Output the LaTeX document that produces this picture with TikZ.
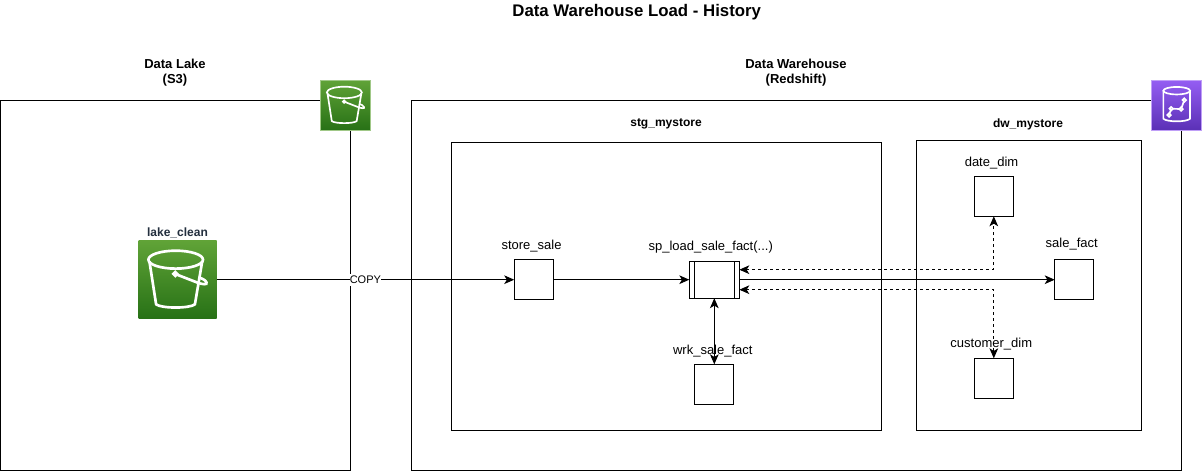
\documentclass[tikz,border=0pt]{standalone}
\usepackage{fontspec}
\setmainfont{Liberation Sans}
\usetikzlibrary{arrows.meta,calc}
\definecolor{awsink}{HTML}{232F3E}
\definecolor{s3top}{HTML}{60A337}
\definecolor{s3bot}{HTML}{277116}
\definecolor{rstop}{HTML}{945DF2}
\definecolor{rsbot}{HTML}{5A30B5}
\definecolor{rsmid}{HTML}{7747D4}
\tikzset{
  x=0.75pt,y=-0.75pt,
  every node/.style={font=\fontsize{9.75}{11.7}\selectfont,inner sep=0pt,outer sep=0pt,align=center},
  zone/.style={draw=black,line width=0.75pt,fill=white,rectangle,anchor=north west},
  tablebox/.style={draw=black,line width=0.75pt,fill=white,rectangle,minimum width=29.25pt,minimum height=30pt},
  link/.style={draw=black,line width=0.75pt,-{Stealth[length=7.5pt,width=6.5pt,inset=2pt]}},
  duplex/.style={draw=black,line width=0.75pt,{Stealth[length=7.5pt,width=6.5pt,inset=2pt]}-{Stealth[length=7.5pt,width=6.5pt,inset=2pt]}},
  dashlink/.style={duplex,dash pattern=on 2.25pt off 2.25pt},
  heading/.style={font=\fontsize{9.75}{11.7}\selectfont\bfseries},
  subheading/.style={font=\fontsize{9}{10.8}\selectfont\bfseries},
  s3icon/.style={rectangle,top color=s3top,bottom color=s3bot,minimum size=#1},
  rsicon/.style={rectangle,top color=rstop,bottom color=rsbot,minimum size=#1},
  pics/bucket/.style={code={
    \draw[white,line width=#1,fill=none]
      (-.023,-.257) ellipse [x radius=.35, y radius=.115];
    \draw[white,line width=#1,line join=round]
      (-.36,-.236) -- (-.274,.317) .. controls (-.2,.37) and (.15,.37) .. (.223,.317) -- (.317,-.236);
    \draw[white,line width=#1] (-.028,-.074) circle [radius=.025];
    \draw[white,line width=#1] (-.01,-.066) -- (.25,.035) .. controls (.31,.06) and (.39,.07) .. (.372,.035)
      .. controls (.36,.0) and (.30,-.02) .. (.27,-.03);
  }},
  pics/warehouse/.style={code={
    \draw[white,line width=#1] (0,-.3) ellipse [x radius=.267, y radius=.075];
    \draw[white,line width=#1] (-.267,-.3) -- (-.267,.26) .. controls (-.2,.33) and (.2,.33) .. (.267,.26) -- (.267,-.3);
    \draw[white,line width=#1] (-.153,.187) -- (-.11,.06) -- (.087,.067) -- (.153,-.113);
    \foreach \p in {(-.153,.187),(-.11,.06),(.087,.067),(.153,-.113)}
      \draw[white,line width=#1,fill=rsmid] \p circle [radius=.035];
  }},
}
\begin{document}
\begin{tikzpicture}
\useasboundingbox (0,0) rectangle (1202,471);
% zones
\node[zone,minimum width=262.9pt,minimum height=277.5pt] (lake) at (0,100.5) {};
\node[zone,minimum width=577.5pt,minimum height=277.5pt] (dw) at (411.5,100.5) {};
\node[zone,minimum width=322.5pt,minimum height=216pt] (stg) at (451.5,142.5) {};
\node[zone,minimum width=169pt,minimum height=217.5pt] (mart) at (916,140.5) {};
% section labels
\node[font=\fontsize{12.6}{15}\selectfont\bfseries] (title) at (636.7,12.5) {Data Warehouse Load - History};
\node[heading] (lakelab) at (175,72.5) {Data Lake\\(S3)};
\node[heading] (dwlab) at (796,72.5) {Data Warehouse\\(Redshift)};
\node[subheading] (stglab) at (666,124) {stg\_mystore};
\node[subheading] (martlab) at (1028,124) {dw\_mystore};
% icons
\node[s3icon=37.5pt,draw=s3top!60!white,line width=0.75pt] (s3small) at (345.5,105.3) {};
\pic at (s3small) [scale=50] {bucket=1.25pt};
\node[rsicon=37.5pt,draw=rstop!60!white,line width=0.75pt] (rsicon) at (1176.7,105.7) {};
\pic at (rsicon) [scale=50] {warehouse=1.25pt};
\node[s3icon=58.5pt] (clean) at (177.5,279.7) {};
\pic at (clean) [scale=78] {bucket=2pt};
\node[text=awsink,font=\fontsize{9}{10.8}\selectfont\bfseries] (cleanlab) at (177.5,232.5) {lake\_clean};
% tables
\node[tablebox] (store) at (533.7,279.7) {};
\node[tablebox] (wrk) at (714.3,384.3) {};
\node[tablebox] (date) at (993.8,196.3) {};
\node[tablebox] (sale) at (1074.2,279.7) {};
\node[tablebox] (cust) at (993.8,378.3) {};
% procedure
\node[draw=black,line width=0.75pt,fill=white,rectangle,minimum width=37.5pt,minimum height=27.75pt] (proc) at (714.3,279.7) {};
\draw[line width=0.75pt] ($(proc.north west)+(5,0)$) -- ($(proc.south west)+(5,0)$);
\draw[line width=0.75pt] ($(proc.north east)+(-5,0)$) -- ($(proc.south east)+(-5,0)$);
\coordinate (procup) at ($(proc.east)+(0,-10)$);
\coordinate (proclow) at ($(proc.east)+(0,10)$);
% connectors
\draw[link] (clean.east) -- node[fill=white,font=\fontsize{8.25}{10}\selectfont,inner ysep=1.5pt,pos=0.5] (copy) {COPY} (store.west);
\draw[link] (store.east) -- (proc.west);
\draw[link] (proc.east) -- (sale.west);
\draw[duplex] (proc.south) -- (wrk.north);
\draw[dashlink] (procup) -| (date.south);
\draw[dashlink] (proclow) -| (cust.north);
% labels of tables
\node (storelab) at (531.5,246) {store\_sale};
\node (proclab) at (710.7,247) {sp\_load\_sale\_fact(...)};
\node (wrklab) at (712.8,351.5) {wrk\_sale\_fact};
\node (datelab) at (991.5,163) {date\_dim};
\node (salelab) at (1071.7,244.5) {sale\_fact};
\node (custlab) at (991.3,344.5) {customer\_dim};
\end{tikzpicture}
\end{document}
